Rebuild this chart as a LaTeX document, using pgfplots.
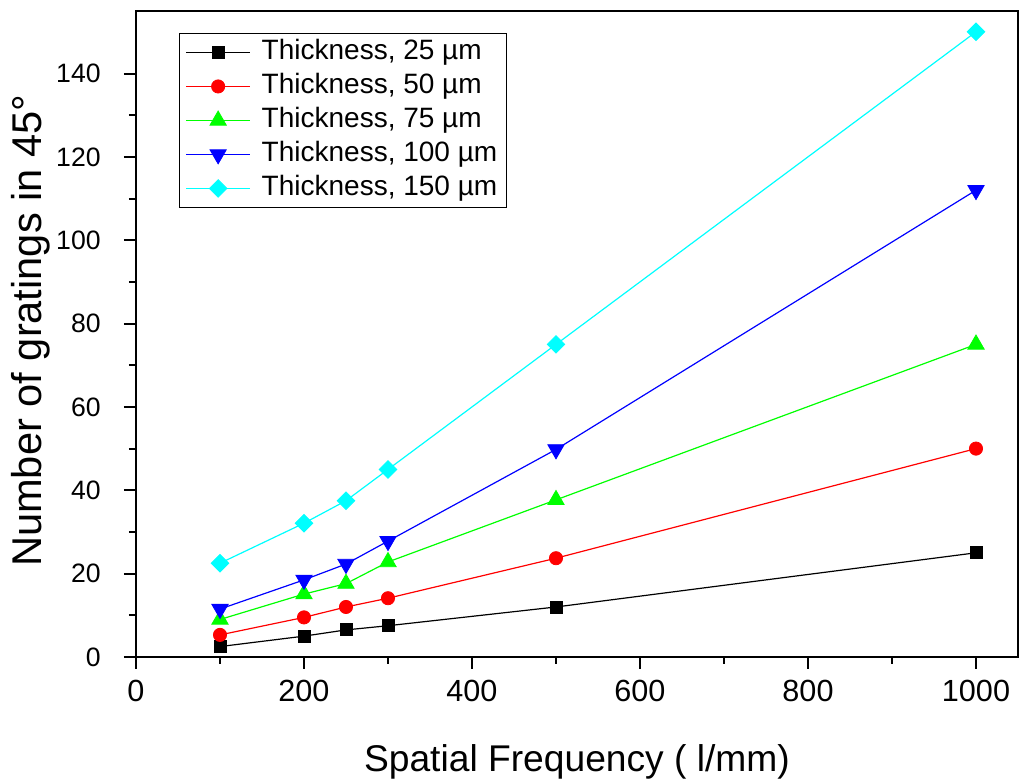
\documentclass[border=0pt]{standalone}
\usepackage{fontspec}
\setmainfont{Liberation Sans}
\usepackage{pgfplots}
\pgfplotsset{compat=1.18}
\definecolor{cy}{RGB}{0,255,255}
\definecolor{gr}{RGB}{0,255,0}
\definecolor{bl}{RGB}{0,0,255}
\definecolor{rd}{RGB}{255,0,0}
\begin{document}
\begin{tikzpicture}
\begin{axis}[
  name=ax,
  width=441pt, height=323pt, scale only axis,
  xmin=0, xmax=1050, ymin=0, ymax=155,
  xtick={0,200,...,1000}, ytick={0,20,...,140},
  minor x tick num=1, minor y tick num=1,
  tick pos=left, tick align=outside,
  major tick length=6pt, minor tick length=3.5pt,
  every tick/.style={black, line width=1pt},
  axis line style={line width=1pt},
  /pgf/number format/assume math mode=true,
  /pgf/number format/1000 sep={},
  xticklabel style={font=\fontsize{15.3}{15.3}\selectfont, anchor=base, yshift=-16.5pt},
  yticklabel style={font=\fontsize{13.3}{13.3}\selectfont, anchor=east, inner sep=0pt, xshift=-11.5pt},
  xlabel={Spatial Frequency ( l/mm)},
  ylabel={Number of gratings in 45°},
  xlabel style={font=\fontsize{18.6}{18.6}\selectfont, at={(axis description cs:0.5,0)}, anchor=base, yshift=-57.5pt},
  ylabel style={font=\fontsize{20.8}{20.8}\selectfont, at={(axis description cs:-0.1066,0.505)}, anchor=base},
  legend cell align=left,
  legend style={at={(rel axis cs:0.0488,0.966)}, anchor=north west, draw=black, line width=0.5pt,
    font=\fontsize{14}{14}\selectfont, inner xsep=3pt, inner ysep=1pt, row sep=0pt,
    nodes={inner sep=1.5pt, text height=10.5pt, text depth=3.5pt},
    /tikz/every odd column/.append style={column sep=4pt}},
  legend image code/.code={\draw[#1, mark repeat=2, mark phase=2] plot coordinates {(0pt,0pt) (16pt,0pt) (32pt,0pt)};},
  every axis plot/.append style={line width=0.6pt},
]
\addplot[black, mark=square*, mark size=3pt, mark options={fill=black, line width=0.4pt}] coordinates {
(100,2.5) (200,5) (250,6.5) (300,7.5) (500,12) (1000,25)};
\addlegendentry{Thickness, 25 µm}
\addplot[rd, mark=*, mark size=3.3pt, mark options={fill=rd, line width=0.4pt}] coordinates {
(100,5.3) (200,9.5) (250,12) (300,14.1) (500,23.7) (1000,50)};
\addlegendentry{Thickness, 50 µm}
\addplot[gr, mark=triangle*, mark size=4.7pt, mark options={fill=gr, line width=0.4pt}] coordinates {
(100,9) (200,15.1) (250,17.6) (300,22.8) (500,37.7) (1000,75)};
\addlegendentry{Thickness, 75 µm}
\addplot[bl, mark=triangle*, mark size=4.7pt, mark options={fill=bl, line width=0.4pt, rotate=180}] coordinates {
(100,11.5) (200,18.5) (250,22.3) (300,27.8) (500,49.8) (1000,112)};
\addlegendentry{Thickness, 100 µm}
\addplot[cy, mark=square*, mark size=3.1pt, mark options={fill=cy, line width=0.4pt, rotate=45}] coordinates {
(100,22.5) (200,32.1) (250,37.5) (300,45) (500,75) (1000,150)};
\addlegendentry{Thickness, 150 µm}
\end{axis}
\pgfresetboundingbox
\useasboundingbox ([xshift=-68pt,yshift=-61pt]ax.south west) rectangle ([xshift=3pt,yshift=5.5pt]ax.north east);
\end{tikzpicture}
\end{document}
